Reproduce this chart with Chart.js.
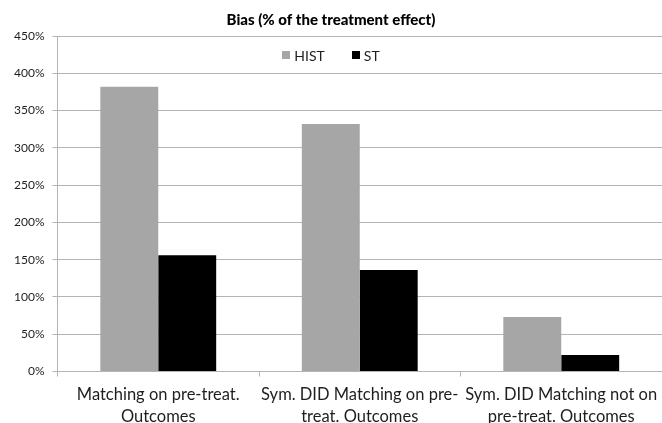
<!DOCTYPE html>
<html>
<head>
<meta charset="utf-8">
<script src="https://cdn.jsdelivr.net/npm/chart.js@4/dist/chart.umd.min.js"></script>
<style>
  html, body { margin: 0; padding: 0; background: #ffffff; }
  #wrap { width: 662px; height: 423px; position: relative; }
</style>
</head>
<body>
<div id="wrap"><canvas id="c" width="662" height="423"></canvas></div>
<script>
// Categories (two-line labels) and bias values in percent
const categories = [
  ["Matching on pre-treat.", "Outcomes"],
  ["Sym. DID Matching on pre-", "treat. Outcomes"],
  ["Sym. DID Matching not on", "pre-treat. Outcomes"]
];
const histValues = [382, 332, 73];
const stValues = [156, 136, 22];
const seriesNames = ["HIST", "ST"];
const chartTitle = "Bias (% of the treatment effect)";
const yMax = 450;
const yStep = 50;

const FONT = "Lato, 'Open Sans', 'DejaVu Sans', sans-serif";
const GRID = "#b4b4b4";
const TEXT = "#1e1e1e";

// Legend drawn inside the plot area, centred under the title
const insideLegend = {
  id: "insideLegend",
  afterDraw(chart) {
    const ctx = chart.ctx;
    const items = chart.data.datasets.map(d => ({ label: d.label, color: d.backgroundColor }));
    ctx.save();
    ctx.font = "14px " + FONT;
    const box = 8, gapBox = 4, gapItem = 27;
    let total = 0;
    items.forEach((it, i) => {
      it.w = ctx.measureText(it.label).width;
      total += box + gapBox + it.w + (i < items.length - 1 ? gapItem : 0);
    });
    let x = chart.width / 2 - total / 2;
    const cy = 55;
    ctx.textBaseline = "middle";
    ctx.textAlign = "left";
    items.forEach(it => {
      ctx.fillStyle = it.color;
      ctx.fillRect(Math.round(x), cy - box / 2, box, box);
      ctx.fillStyle = TEXT;
      ctx.fillText(it.label, x + box + gapBox, cy + 1);
      x += box + gapBox + it.w + gapItem;
    });
    ctx.restore();
  }
};

new Chart(document.getElementById("c"), {
  type: "bar",
  data: {
    labels: categories,
    datasets: [
      { label: seriesNames[0], data: histValues, backgroundColor: "#a6a6a6", borderWidth: 0 },
      { label: seriesNames[1], data: stValues, backgroundColor: "#000000", borderWidth: 0 }
    ]
  },
  options: {
    responsive: false,
    animation: false,
    devicePixelRatio: 1,
    layout: { padding: { left: 0, right: 0, top: 0, bottom: 0 } },
    datasets: { bar: { categoryPercentage: 0.575, barPercentage: 1.0 } },
    plugins: {
      legend: { display: false },
      tooltip: { enabled: false },
      title: {
        display: true,
        text: chartTitle,
        color: "#000000",
        font: { family: FONT, size: 15, weight: "900" },
        padding: { top: 11, bottom: 7 }
      }
    },
    scales: {
      x: {
        offset: true,
        grid: {
          offset: true,
          drawOnChartArea: false,
          drawTicks: true,
          tickLength: 5,
          color: GRID
        },
        border: { color: GRID, width: 1 },
        ticks: {
          color: TEXT,
          font: { family: FONT, size: 16.5, lineHeight: 1.28 },
          padding: 8,
          maxRotation: 0,
          autoSkip: false
        },
        afterFit(scale) {
          scale.height = 51.5;
          // keep the plot running to the right edge of the canvas
          scale.paddingLeft = 0;
          scale.paddingRight = 0;
        }
      },
      y: {
        min: 0,
        max: yMax,
        grid: { color: GRID, tickLength: 5, drawTicks: true },
        border: { color: GRID, width: 1 },
        ticks: {
          stepSize: yStep,
          color: TEXT,
          font: { family: FONT, size: 12 },
          padding: 8,
          callback: v => v + "%"
        },
        afterFit(scale) {
          scale.width = 57.5;
          scale.paddingTop = 0;
          scale.paddingBottom = 0;
        }
      }
    }
  },
  plugins: [insideLegend]
});
</script>
</body>
</html>
